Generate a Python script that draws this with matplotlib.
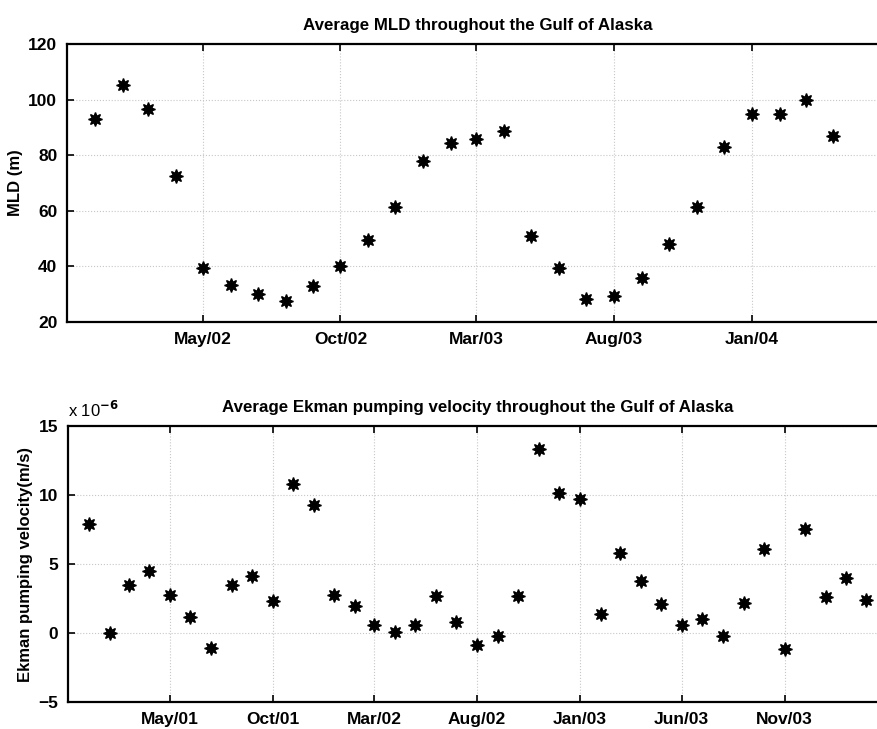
import matplotlib
matplotlib.use("Agg")
import matplotlib.pyplot as plt
import matplotlib.dates as mdates
import pandas as pd

plt.rcParams['font.family'] = ['Liberation Sans', 'DejaVu Sans']
plt.rcParams['font.weight'] = 'bold'
plt.rcParams['axes.titleweight'] = 'bold'
plt.rcParams['axes.labelweight'] = 'bold'

# monthly mean mixed layer depth (m), Jan/02 - Apr/04
mld_dates = pd.date_range("2002-01-01", periods=28, freq="MS")
mld = [93.1, 105.3, 96.6, 72.5, 39.5, 33.2, 30.2, 27.7, 32.9, 40.2,
       49.5, 61.2, 78.0, 84.5, 85.7, 88.7, 50.9, 39.5, 28.1, 29.2,
       36.0, 47.9, 61.2, 83.1, 94.9, 94.9, 99.7, 86.8]

# monthly mean Ekman pumping velocity (x 1e-6 m/s), Jan/01 - Mar/04
ek_dates = pd.date_range("2001-01-01", periods=39, freq="MS")
ekman = [7.89, 0.0, 3.49, 4.47, 2.73, 1.14, -1.07, 3.49, 4.16, 2.33,
         10.76, 9.29, 2.73, 2.0, 0.62, 0.05, 0.57, 2.71, 0.78, -0.88,
         -0.21, 2.66, 13.3, 10.1, 9.72, 1.40, 5.82, 3.77, 2.11, 0.59,
         1.04, -0.24, 2.16, 6.11, -1.18, 7.54, 2.63, 3.98, 2.42]

mld_ticks = pd.to_datetime(["2002-05-01", "2002-10-01", "2003-03-01",
                            "2003-08-01", "2004-01-01"])
ek_ticks = pd.to_datetime(["2001-05-01", "2001-10-01", "2002-03-01",
                           "2002-08-01", "2003-01-01", "2003-06-01",
                           "2003-11-01"])

fig = plt.figure(figsize=(8.78, 7.29), dpi=100)
# axes run a little past the right edge, like the cropped scan
ax1 = fig.add_axes([0.0763, 0.5583, 0.9355, 0.3813])
ax2 = fig.add_axes([0.0775, 0.0366, 0.9326, 0.3794])

star = (8, 1, 0)


def style(ax, ticks):
    ax.set_xticks(ticks)
    ax.xaxis.set_major_formatter(mdates.DateFormatter("%b/%y"))
    ax.tick_params(direction="in", top=True, right=True, length=5,
                   width=1.2, labelsize=12.5, pad=7)
    ax.grid(True, linestyle=":", color="0.78", linewidth=0.8)
    for s in ax.spines.values():
        s.set_linewidth(1.6)


ax1.plot(mld_dates, mld, linestyle="none", marker=star, color="black",
         markersize=10)
ax1.set_xlim(pd.Timestamp("2001-12-01"), pd.Timestamp("2004-06-01"))
ax1.set_ylim(20, 120)
ax1.set_yticks([20, 40, 60, 80, 100, 120])
style(ax1, mld_ticks)
ax1.set_ylabel("MLD (m)", fontsize=12, labelpad=4)
ax1.set_title("Average MLD throughout the Gulf of Alaska", fontsize=12.2,
              pad=10)

ax2.plot(ek_dates, ekman, linestyle="none", marker=star, color="black",
         markersize=10)
ax2.set_xlim(pd.Timestamp("2000-12-01"), pd.Timestamp("2004-04-01"))
ax2.set_ylim(-5, 15)
ax2.set_yticks([-5, 0, 5, 10, 15])
ax2.set_yticklabels(["\u22125", "0", "5", "10", "15"])
style(ax2, ek_ticks)
ax2.set_ylabel("Ekman pumping velocity(m/s)", fontsize=12, labelpad=4)
ax2.set_title("Average Ekman pumping velocity throughout the Gulf of Alaska",
              fontsize=12.2, pad=10)
ax2.text(0.0, 1.02, r"x 10$^{-6}$", transform=ax2.transAxes, fontsize=12,
         ha="left", va="bottom", fontweight="normal")

fig.savefig("out.png", dpi=100)
